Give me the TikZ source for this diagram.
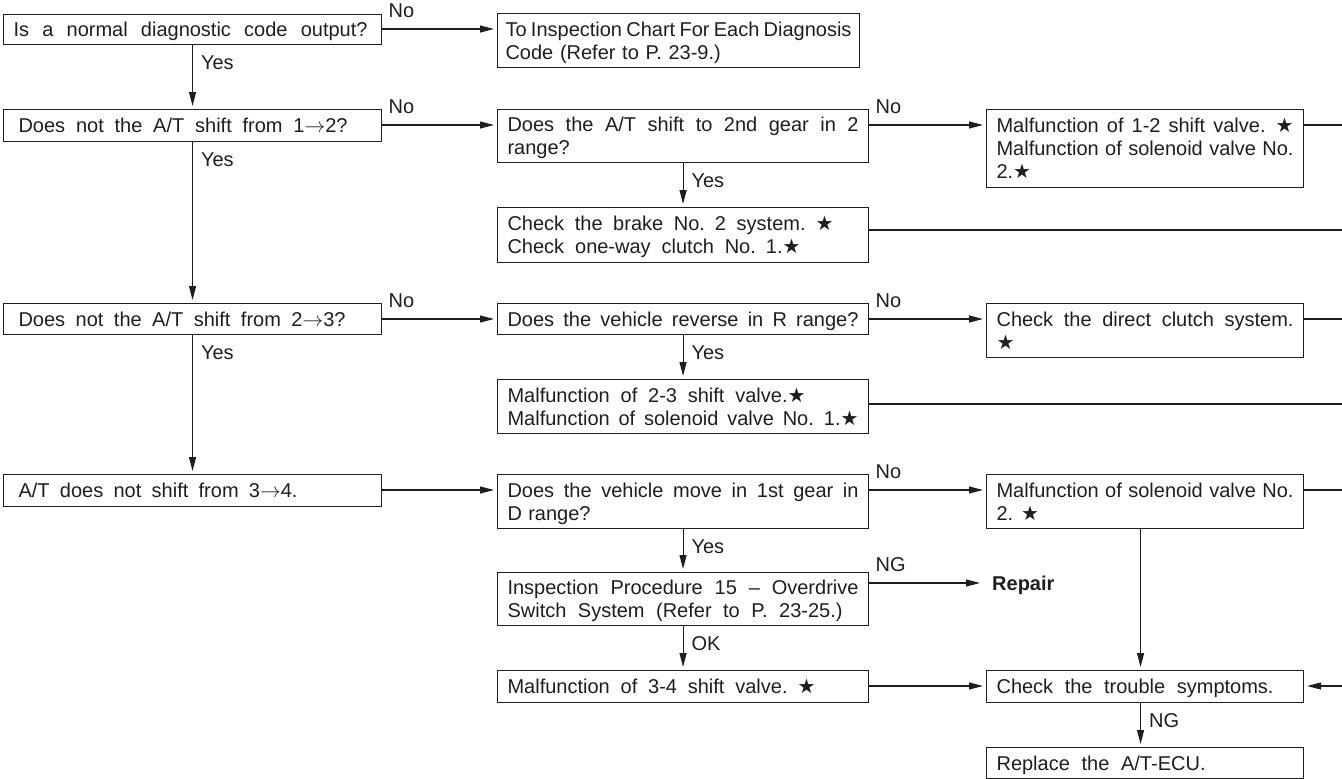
\documentclass[tikz,border=0pt]{standalone}
\usepackage{fontspec}
\setmainfont{Liberation Sans}
\newfontfamily\symfont{DejaVu Sans}
\usetikzlibrary{arrows.meta,calc}

\definecolor{ink}{HTML}{1E1E1E}
% line strut: 23pt tall, centred on the capital letters
\newcommand\vs{\rule[-4.3pt]{0pt}{23pt}}
% a line spread to a given width by its interword spaces
\newcommand\fl[2]{\makebox[#1pt][s]{\spaceskip=5.56pt plus 1fil minus 3pt\relax\vs#2}}
\newcommand\st{{\symfont ★}}
\newcommand\ar{\(\rightarrow\)}

\begin{document}
\begin{tikzpicture}[x=1pt,y=-1pt,
  font=\fontsize{20pt}{23pt}\selectfont,
  every node/.style={text=ink},
  box/.style={draw=ink, line width=1.1pt, anchor=north west,
              inner xsep=10pt, inner ysep=0pt, align=left},
  lbox/.style={box, text width=358pt},
  cbox/.style={box, text width=351pt},
  rbox/.style={box, text width=297pt},
  ln/.style={draw=ink, line width=1.1pt},
  arr/.style={ln, -{Triangle[length=14pt,width=7pt]}, shorten >=3pt},
  lab/.style={inner sep=0pt, anchor=base west},
  no/.style={lab, pos=0, xshift=6pt, yshift=12pt},
  yes/.style={lab, pos=0, xshift=8pt, yshift=-24pt},
]
\useasboundingbox (0,0) rectangle (1342,779);

% connector levels and the right-hand edge
\coordinate (r1)  at (0,29);
\coordinate (r2)  at (0,125);
\coordinate (r2b) at (0,230);
\coordinate (r3)  at (0,319);
\coordinate (r3b) at (0,404);
\coordinate (r4)  at (0,490);
\coordinate (r5)  at (0,583);
\coordinate (r6)  at (0,686);
\coordinate (edge) at (1342,0);

% left column: symptoms
\node[lbox, minimum height=30pt] (L1) at (3,14)
  {\fl{354}{Is a normal diagnostic code output?}};
\node[lbox, minimum height=32pt] (L2) at (3,109)
  {\hspace*{5pt}\fl{329}{Does not the A/T shift from 1\ar2?}};
\node[lbox, minimum height=31pt] (L3) at (3,303)
  {\hspace*{5pt}\fl{327}{Does not the A/T shift from 2\ar3?}};
\node[lbox, minimum height=32pt] (L4) at (3,474)
  {\hspace*{5pt}\fl{279}{A/T does not shift from 3\ar4.}};

% middle column: checks
\node[box, text width=346pt, inner xsep=8pt, minimum height=54pt] (INSP) at (497,13)
  {\fl{346}{To Inspection Chart For Each Diagnosis}\\\vs Code (Refer to P. 23-9.)};
\node[cbox, minimum height=53pt] (Q2) at (497,109)
  {\fl{351}{Does the A/T shift to 2nd gear in 2}\\\vs range?};
\node[cbox, minimum height=55pt] (CB) at (497,207)
  {\fl{326}{Check the brake No. 2 system. \st}\\\fl{293}{Check one-way clutch No. 1.\st}};
\node[cbox, minimum height=31pt] (Q3) at (497,303)
  {\fl{351}{Does the vehicle reverse in R range?}};
\node[cbox, minimum height=54pt] (M23) at (497,379)
  {\fl{298}{Malfunction of 2-3 shift valve.\st}\\\fl{351}{Malfunction of solenoid valve No. 1.\st}};
\node[cbox, minimum height=54pt] (Q4) at (497,474)
  {\fl{351}{Does the vehicle move in 1st gear in}\\\fl{83}{D range?}};
\node[cbox, minimum height=53pt] (IP) at (497,572)
  {\fl{351}{Inspection Procedure 15 – Overdrive}\\\fl{335}{Switch System (Refer to P. 23-25.)}};
\node[cbox, minimum height=32pt] (M34) at (497,670)
  {\fl{308}{Malfunction of 3-4 shift valve. \st}};

% right column: causes and final steps
\node[rbox, minimum height=78pt] (M12) at (986,109)
  {\fl{297}{Malfunction of 1-2 shift valve. \st}\\\fl{297}{Malfunction of solenoid valve No.}\\\vs 2.\st};
\node[rbox, minimum height=54pt] (DC) at (986,303)
  {\fl{297}{Check the direct clutch system.}\\\vs\st};
\node[rbox, minimum height=54pt] (S2) at (986,474)
  {\fl{297}{Malfunction of solenoid valve No.}\\\vs 2.\hspace{8pt}\st};
\node[rbox, minimum height=32pt] (CT) at (986,670)
  {\fl{277}{Check the trouble symptoms.}};
\node[rbox, minimum height=31pt] (RE) at (986,747)
  {\fl{209}{Replace the A/T-ECU.}};
\node[inner xsep=9pt, inner ysep=0pt, anchor=west,
      font=\fontsize{20pt}{23pt}\selectfont\bfseries] (RP) at (983,583) {\vs Repair};

% left column flow
\draw[arr] (L1) -- node[yes]{Yes} (L2);
\draw[arr] (L2) -- node[yes]{Yes} (L3);
\draw[arr] (L3) -- node[yes]{Yes} (L4);
\draw[arr] (L1.east |- r1) -- node[no]{No} (INSP.west |- r1);

% 1 -> 2
\draw[arr] (L2.east |- r2) -- node[no]{No} (Q2.west |- r2);
\draw[arr] (Q2.east |- r2) -- node[no]{No} (M12.west |- r2);
\draw[ln]  (M12.east |- r2) -- (edge |- r2);
\draw[arr] (Q2) -- node[yes]{Yes} (CB);
\draw[ln]  (CB.east |- r2b) -- (edge |- r2b);

% 2 -> 3
\draw[arr] (L3.east |- r3) -- node[no]{No} (Q3.west |- r3);
\draw[arr] (Q3.east |- r3) -- node[no]{No} (DC.west |- r3);
\draw[ln]  (DC.east |- r3) -- (edge |- r3);
\draw[arr] (Q3) -- node[yes]{Yes} (M23);
\draw[ln]  (M23.east |- r3b) -- (edge |- r3b);

% 3 -> 4
\draw[arr] (L4.east |- r4) -- (Q4.west |- r4);
\draw[arr] (Q4.east |- r4) -- node[no]{No} (S2.west |- r4);
\draw[ln]  (S2.east |- r4) -- (edge |- r4);
\draw[arr] (Q4) -- node[yes]{Yes} (IP);
\draw[arr] (IP.east |- r5) -- node[no]{NG} (RP.west);
\draw[arr] (IP) -- node[yes]{OK} (M34);

% final checks
\draw[arr] (M34.east |- r6) -- (CT.west |- r6);
\draw[arr] (edge |- r6) -- (CT.east |- r6);
\draw[arr] ([xshift=-4.5pt]S2.south) -- ([xshift=-4.5pt]CT.north);
\draw[arr] ([xshift=-4.5pt]CT.south) -- node[yes]{NG} ([xshift=-4.5pt]RE.north);
\end{tikzpicture}
\end{document}
